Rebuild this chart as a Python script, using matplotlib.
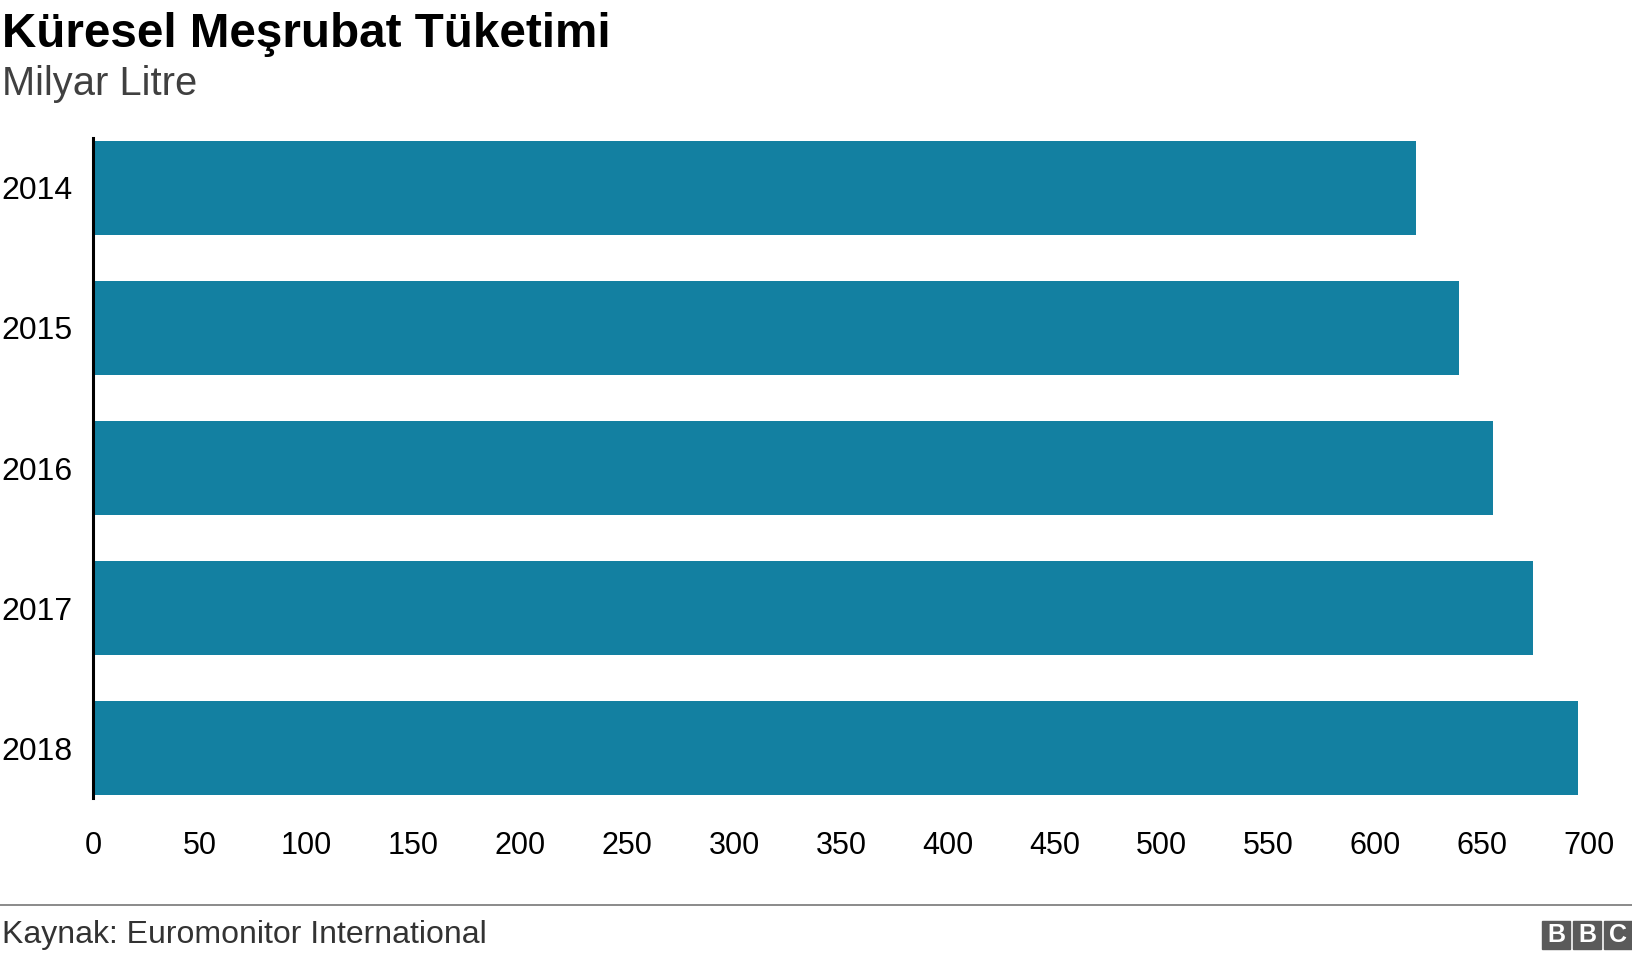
import matplotlib
matplotlib.use("Agg")
import matplotlib.pyplot as plt
from matplotlib.patches import Rectangle
from matplotlib.lines import Line2D

plt.rcParams['font.family'] = ['Liberation Sans', 'DejaVu Sans']

years = ["2014", "2015", "2016", "2017", "2018"]
values = [619, 639, 655, 674, 695]
xticks = [0, 50, 100, 150, 200, 250, 300, 350, 400, 450, 500, 550, 600, 650, 700]

bar_color = "#1380A1"

fig = plt.figure(figsize=(16.32, 9.6), dpi=100)
ax = fig.add_axes([93 / 1632, 1 - 798 / 960, (1589 - 93) / 1632, (798 - 138) / 960])

pos = list(range(len(years)))
ax.barh(pos, values, height=0.67, color=bar_color, zorder=2)
ax.set_ylim(4.357, -0.357)
ax.set_xlim(0, 700)
ax.set_yticks(pos)
ax.set_yticklabels(years)
ax.set_xticks(xticks)
ax.tick_params(axis='both', length=0, labelsize=22, colors="#000000")
ax.tick_params(axis='y', pad=15, labelsize=23)
ax.tick_params(axis='x', pad=24)

for s in ["top", "right", "bottom"]:
    ax.spines[s].set_visible(False)
ax.spines["left"].set_linewidth(2.2)
ax.spines["left"].set_color("#000000")
ax.spines["left"].set_zorder(3)

# titel
fig.text(0.001, 1 - 47 / 960, "Küresel Meşrubat Tüketimi", fontsize=34.3,
         fontweight='bold', color="#000000", va='baseline', ha='left')
fig.text(0.001, 1 - 95 / 960, "Milyar Litre", fontsize=28.7,
         color="#404040", va='baseline', ha='left')

# footer
fig.add_artist(Line2D([0, 1], [1 - 905 / 960, 1 - 905 / 960], color="#777777",
                      linewidth=1.2, transform=fig.transFigure))
fig.text(0.001, 1 - 943 / 960, "Kaynak: Euromonitor International", fontsize=23,
         color="#333333", va='baseline', ha='left')

# BBC logo
bw, gap = 28, 3
x0 = 1632 - 3 * bw - 2 * gap
for i, letter in enumerate("BBC"):
    xl = x0 + i * (bw + gap)
    fig.add_artist(Rectangle((xl / 1632, 1 - 949 / 960), bw / 1632, bw / 960,
                             color="#5a5a5a", transform=fig.transFigure))
    fig.text((xl + bw / 2) / 1632, 1 - 935 / 960, letter, fontsize=18,
             fontweight='bold', color="white", ha='center', va='center')

fig.savefig("out.png", dpi=100)
